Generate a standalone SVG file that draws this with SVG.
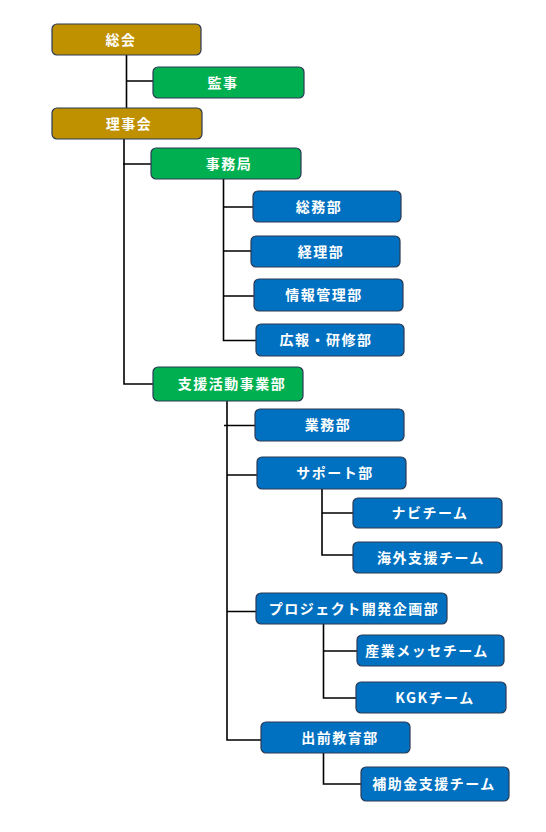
<svg xmlns="http://www.w3.org/2000/svg" width="546" height="832" viewBox="0 0 546 832">
<style>
.b{stroke:#2b3a55;stroke-width:1.2}
.g{fill:#bf9000}.gr{fill:#00b050}.bl{fill:#0070c0}
text{font-family:"Noto Sans CJK JP","Noto Sans",sans-serif;font-weight:bold;font-size:14px;fill:#fff;text-anchor:middle;letter-spacing:1.5px}
.c{fill:none;stroke:#000;stroke-width:1.6}
</style>
<rect width="546" height="832" fill="#fff"/>
<g id="connectors" class="c">
<path d="M126.5 55V108M126.5 81H153"/>
<path d="M124 139V384H153M123 164H151"/>
<path d="M223.5 179V340.5H256M223.5 207H253M223.5 251H251M223.5 296H254"/>
<path d="M227 401V740H261M224 425.5H255M227 475H257M227 611.5H256"/>
<path d="M322 489V555H353M322 513H353"/>
<path d="M323.5 624V698H356M323.5 651H357"/>
<path d="M323.5 753V784H361"/>
</g>
<g id="n1"><rect class="b g" x="52" y="24" width="149" height="31" rx="5"/><text x="121" y="44.5">総会</text></g>
<g id="n2"><rect class="b gr" x="153" y="67" width="151" height="31" rx="5"/><text x="223" y="87.5">監事</text></g>
<g id="n3"><rect class="b g" x="52" y="108" width="150" height="31" rx="5"/><text x="129" y="128.5">理事会</text></g>
<g id="n4"><rect class="b gr" x="151" y="148" width="150" height="31" rx="5"/><text x="229" y="168.5">事務局</text></g>
<g id="n5"><rect class="b bl" x="253" y="191" width="148" height="31" rx="5"/><text x="319" y="211.5">総務部</text></g>
<g id="n6"><rect class="b bl" x="251" y="236" width="149" height="31" rx="5"/><text x="321" y="256.5">経理部</text></g>
<g id="n7"><rect class="b bl" x="254" y="279" width="149" height="32" rx="5"/><text x="324" y="300">情報管理部</text></g>
<g id="n8"><rect class="b bl" x="256" y="324" width="148" height="32" rx="5"/><text x="326" y="345">広報・研修部</text></g>
<g id="n9"><rect class="b gr" x="153" y="367" width="150" height="34" rx="5"/><text x="232" y="389">支援活動事業部</text></g>
<g id="n10"><rect class="b bl" x="255" y="409" width="149" height="32" rx="5"/><text x="328" y="430">業務部</text></g>
<g id="n11"><rect class="b bl" x="257" y="457" width="149" height="32" rx="5"/><text x="335" y="478">サポート部</text></g>
<g id="n12"><rect class="b bl" x="353" y="498" width="149" height="30" rx="5"/><text x="430" y="518">ナビチーム</text></g>
<g id="n13"><rect class="b bl" x="353" y="542" width="149" height="31" rx="5"/><text x="431" y="562.5">海外支援チーム</text></g>
<g id="n14"><rect class="b bl" x="256" y="593" width="191" height="31" rx="5"/><text x="354" y="613.5">プロジェクト開発企画部</text></g>
<g id="n15"><rect class="b bl" x="357" y="635" width="147" height="31" rx="5"/><text x="427" y="655.5">産業メッセチーム</text></g>
<g id="n16"><rect class="b bl" x="356" y="682" width="150" height="31" rx="5"/><text x="435" y="702.5">KGKチーム</text></g>
<g id="n17"><rect class="b bl" x="261" y="722" width="149" height="31" rx="5"/><text x="340" y="742.5">出前教育部</text></g>
<g id="n18"><rect class="b bl" x="361" y="767" width="148" height="34" rx="5"/><text x="434" y="789">補助金支援チーム</text></g>
</svg>
